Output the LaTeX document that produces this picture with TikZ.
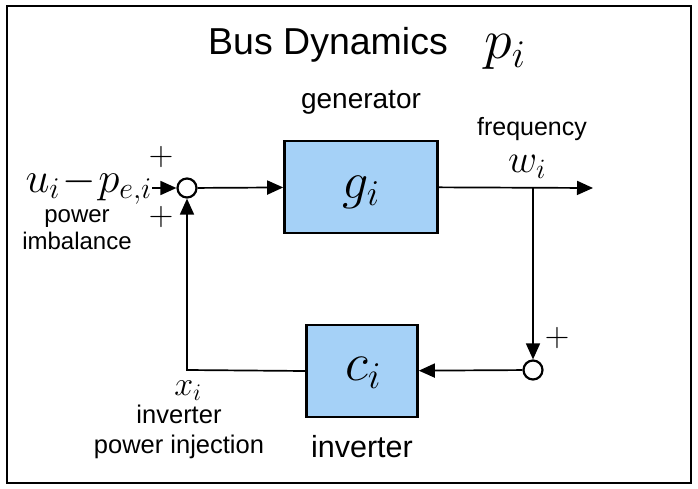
\RequirePackage{fix-cm}
\documentclass[tikz,border=0pt]{standalone}
\usepackage{fontspec}
\setmainfont{Liberation Sans}
\usetikzlibrary{arrows.meta}
\definecolor{boxblue}{HTML}{A5D1F7}
\newcommand{\fs}[1]{\fontsize{#1}{#1}\selectfont}
\begin{document}
\begin{tikzpicture}[x=1pt,y=-1pt,
  blk/.style={draw=black,line width=2.6pt,fill=boxblue,inner sep=0pt},
  sumj/.style={circle,draw=black,line width=2.2pt,fill=white,minimum size=19pt,inner sep=0pt},
  conn/.style={line width=1.7pt},
  arr/.style={conn,-{Triangle[length=16pt,width=14pt]}},
  lbl/.style={inner sep=0pt,align=center}]
\useasboundingbox (0,0) rectangle (698,489);
\draw[line width=2pt] (7,6) rectangle (691,483);
\node[lbl,font=\fs{37.5}] (title) at (328,45) {Bus Dynamics};
\node[lbl,font=\fs{56}] (titlep) at (505,52) {$p_i$};
\node[lbl,font=\fs{28}] (gen) at (361,102) {generator};
\node[blk,minimum width=153pt,minimum height=92pt] (g) at (361,187) {};
\node[lbl,font=\fs{52}] (glab) at (361,192) {$g_i$};
\node[blk,minimum width=111pt,minimum height=92pt] (c) at (362,371) {};
\node[lbl,font=\fs{54}] (clab) at (363,373) {$c_i$};
\node[lbl,font=\fs{30.5}] (inv) at (362,447) {inverter};
\node[sumj] (s1) at (187,188) {};
\node[sumj] (s2) at (533,370) {};
\coordinate (in) at (152,188);
\node[lbl,anchor=east,font=\fs{43}] (u) at (152,186) {$u_i\!-\!p_{e,i}$};
\node[lbl,font=\fs{34}] (pl1) at (161,157) {$+$};
\node[lbl,font=\fs{34}] (pl2) at (161,217) {$+$};
\node[lbl,font=\fs{34}] (pl3) at (557,338) {$+$};
\node[lbl,font=\fs{24}] (pi) at (77,230) {power\\[3pt]imbalance};
\node[lbl,font=\fs{25}] (freq) at (532,129) {frequency};
\node[lbl,font=\fs{40}] (w) at (527,167) {$w_i$};
\coordinate (out) at (593,188);
\coordinate (br) at (533,188);
\coordinate (cl) at (187,370);
\node[lbl,font=\fs{34}] (x) at (188,391) {$x_i$};
\node[lbl,font=\fs{25.5}] (inj) at (179,432) {inverter\\[5pt]power injection};
\draw[arr] (in) -- (s1);
\draw[arr] (s1) -- (g);
\draw[arr] (g) -- (out);
\draw[arr] (br) -- (s2);
\draw[arr] (s2) -- (c);
\draw[arr] (c.west) -- (cl) -- (s1);
\end{tikzpicture}
\end{document}
